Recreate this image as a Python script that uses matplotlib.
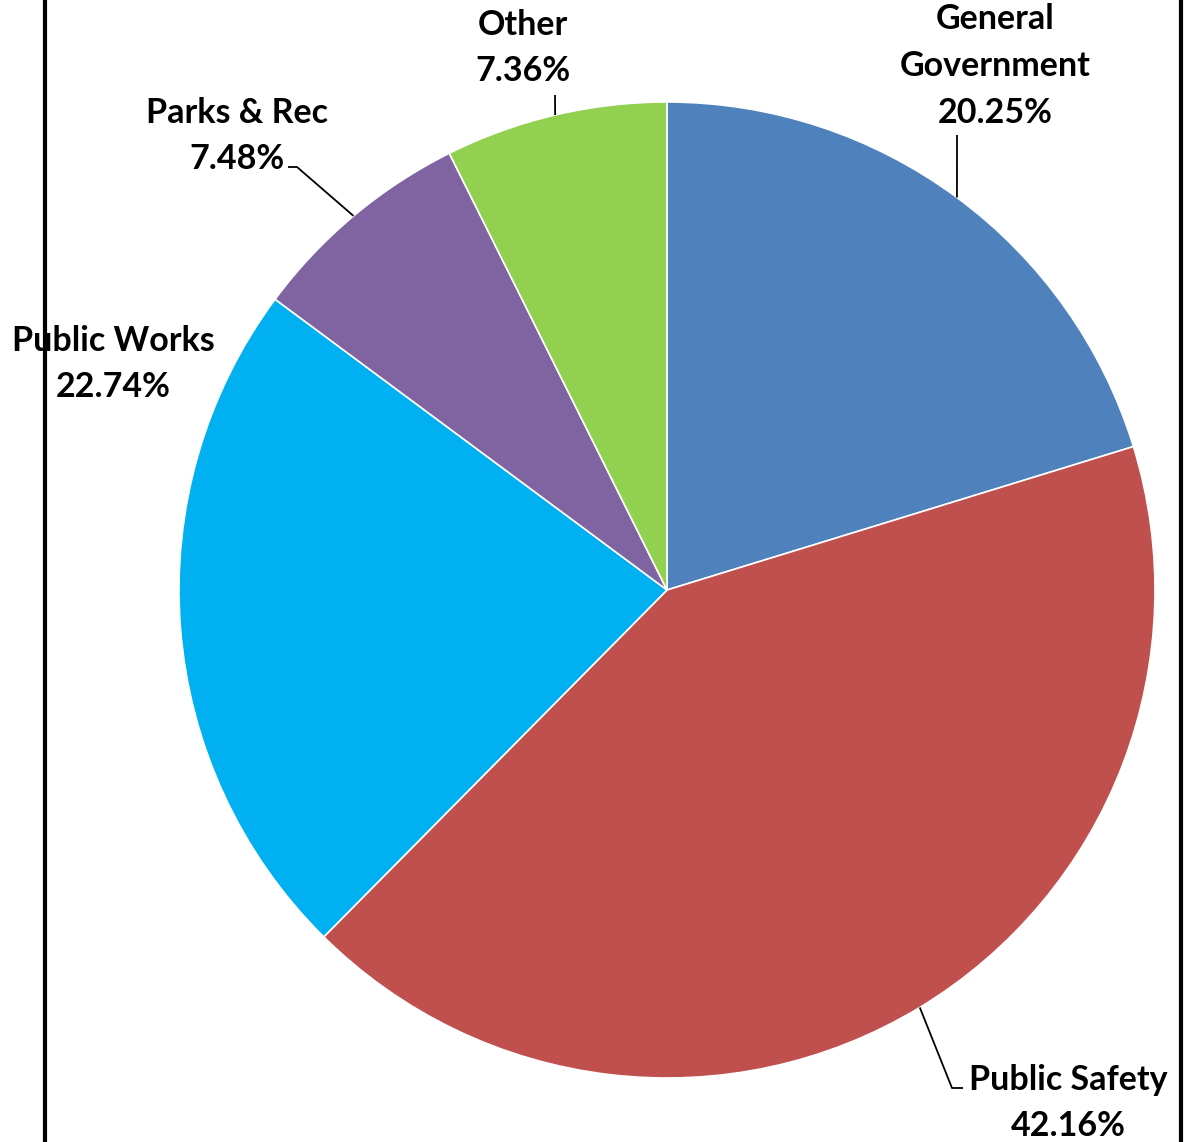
import matplotlib.pyplot as plt
import numpy as np

# Budget share by department, clockwise from 12 o'clock
departments = ["General\nGovernment", "Public Safety", "Public Works", "Parks & Rec", "Other"]
shares = [20.25, 42.16, 22.74, 7.48, 7.36]
colors = ["#4F81BD", "#C0504D", "#00B0F0", "#8064A2", "#92D050"]

W, H = 1188, 1142
CX, CY, R = 667, H - 590, 488

# label anchor (centre of text block, pixel coords from top) and leader elbow
label_pos = {
    "General\nGovernment": (995, 66),
    "Public Safety": (1068, 1103),
    "Public Works": (113, 364),
    "Parks & Rec": (237, 136),
    "Other": (523, 48),
}
leader_elbow = {
    "General\nGovernment": [(957, 135)],
    "Public Safety": [(952, 1088), (963, 1088)],
    "Parks & Rec": [(297, 167), (288, 167)],
    "Other": [(555, 95)],
}

plt.rcParams["font.family"] = ["Lato", "DejaVu Sans"]
fig = plt.figure(figsize=(W / 100, H / 100), dpi=100)
ax = fig.add_axes([0, 0, 1, 1])

wedges, _ = ax.pie(
    shares,
    colors=colors,
    startangle=90,
    counterclock=False,
    center=(CX, CY),
    radius=R,
    wedgeprops=dict(edgecolor="white", linewidth=1.2),
    frame=True,
)
ax.set_xlim(0, W)
ax.set_ylim(0, H)
ax.set_aspect("equal")
ax.axis("off")

for name, share, wedge in zip(departments, shares, wedges):
    mid = np.deg2rad((wedge.theta1 + wedge.theta2) / 2)
    ex, ey = CX + R * np.cos(mid), CY + R * np.sin(mid)
    if name in leader_elbow:
        pts = [(ex, ey)] + [(x, H - y) for x, y in leader_elbow[name]]
        xs, ys = zip(*pts)
        ax.plot(xs, ys, color="black", linewidth=1.3, solid_capstyle="butt")
    lx, ly = label_pos[name]
    ax.text(lx, H - ly, f"{name}\n{share:.2f}%", ha="center", va="center",
            fontsize=24.5, fontweight="bold", linespacing=1.56, color="black")

# frame lines on both sides
for x in (45, 1181):
    ax.plot([x, x], [0, H], color="black", linewidth=3, zorder=0)

fig.savefig("out.png", dpi=100)
